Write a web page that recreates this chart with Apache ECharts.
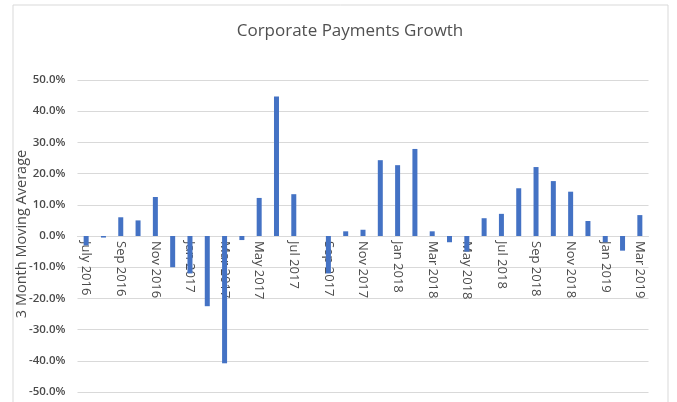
<!DOCTYPE html>
<html>
<head>
<meta charset="utf-8">
<script src="https://cdn.jsdelivr.net/npm/echarts@6/dist/echarts.min.js"></script>
<style>
  html, body { margin: 0; padding: 0; background: #fff; }
  #chart { width: 677px; height: 402px; }
</style>
</head>
<body>
<div id="chart"></div>
<script>
var months = [
  'July 2016', 'Aug 2016', 'Sep 2016', 'Oct 2016', 'Nov 2016', 'Dec 2016',
  'Jan 2017', 'Feb 2017', 'Mar 2017', 'Apr 2017', 'May 2017', 'Jun 2017',
  'Jul 2017', 'Aug 2017', 'Sep 2017', 'Oct 2017', 'Nov 2017', 'Dec 2017',
  'Jan 2018', 'Feb 2018', 'Mar 2018', 'Apr 2018', 'May 2018', 'Jun 2018',
  'Jul 2018', 'Aug 2018', 'Sep 2018', 'Oct 2018', 'Nov 2018', 'Dec 2018',
  'Jan 2019', 'Feb 2019', 'Mar 2019'
];
// 3 month moving average, percent
var growth = [
  -3, -0.5, 6, 5, 12.5, -10,
  -12, -22.5, -40.8, -1.3, 12.2, 44.7,
  13.4, 0, -12, 1.5, 2, 24.3,
  22.7, 27.9, 1.5, -2, -5, 5.7,
  7.1, 15.3, 22.1, 17.6, 14.2, 4.8,
  -2, -4.7, 6.7
];
var yTicks = { min: -50, max: 50, step: 10 };

var chartDom = document.getElementById('chart');
var myChart = echarts.init(chartDom);
var textColor = '#4a4a4a';

// grid geometry, so the month labels can sit just under the zero line
var gridTop = 80, gridBottom = 10;
var plotH = 402 - gridTop - gridBottom;
var zeroFromBottom = plotH * (0 - yTicks.min) / (yTicks.max - yTicks.min);

var option = {
  animation: false,
  textStyle: { fontFamily: 'Open Sans' },
  title: {
    text: 'Corporate Payments Growth',
    left: 345,
    top: 18,
    textAlign: 'center',
    textStyle: { fontFamily: 'Open Sans', fontSize: 17, fontWeight: 'normal', color: '#505050' }
  },
  graphic: [
    {
      type: 'rect',
      shape: { x: 13, y: 5, width: 655, height: 410 },
      style: { fill: 'none', stroke: '#d9d9d9', lineWidth: 1 },
      silent: true
    },
    {
      type: 'text',
      x: 22,
      y: 234,
      rotation: Math.PI / 2,
      style: {
        text: '3 Month Moving Average',
        font: '14.5px "Open Sans"',
        fill: textColor,
        textAlign: 'center',
        textVerticalAlign: 'middle'
      }
    }
  ],
  grid: { left: 77.5, right: 28.5, top: gridTop, bottom: gridBottom, containLabel: false },
  xAxis: {
    type: 'category',
    data: months,
    z: 0,
    axisLine: { onZero: true, lineStyle: { color: '#d9d9d9' } },
    axisTick: { show: false },
    axisLabel: {
      interval: 1,
      rotate: -90,
      margin: 5 - zeroFromBottom,
      fontSize: 13,
      color: textColor
    }
  },
  yAxis: {
    type: 'value',
    min: yTicks.min,
    max: yTicks.max,
    interval: yTicks.step,
    axisLine: { show: false },
    axisTick: { show: false },
    splitLine: { lineStyle: { color: '#d9d9d9' } },
    axisLabel: {
      fontSize: 11.5,
      fontWeight: 600,
      color: textColor,
      margin: 12,
      formatter: function (v) { return v.toFixed(1) + '%'; }
    }
  },
  series: [
    {
      type: 'bar',
      data: growth,
      barWidth: 5,
      z: 5,
      itemStyle: { color: '#4472C4' }
    }
  ]
};

myChart.setOption(option);
</script>
</body>
</html>
